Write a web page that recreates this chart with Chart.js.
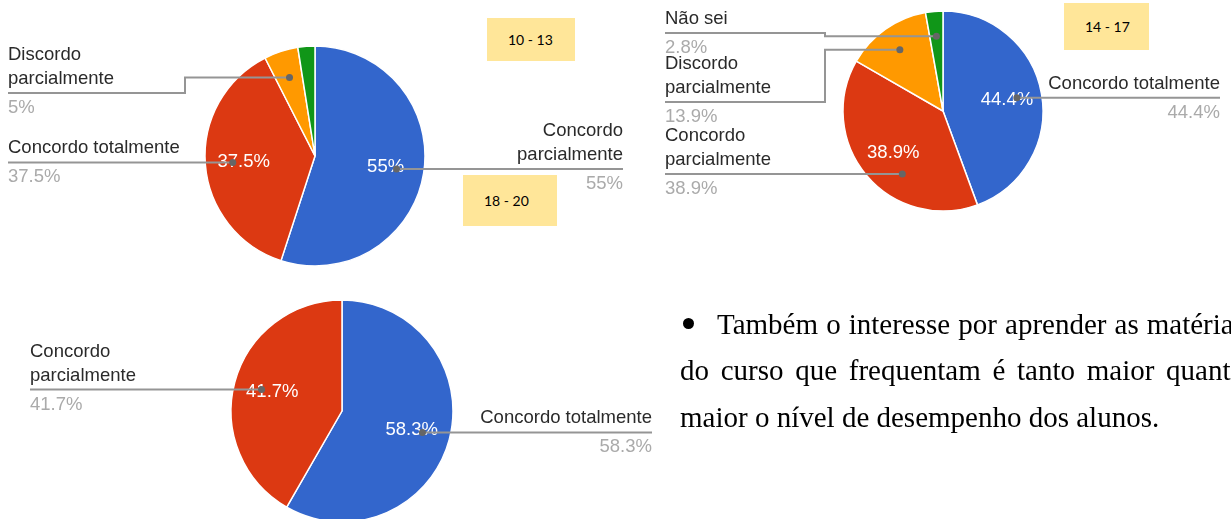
<!DOCTYPE html>
<html>
<head>
<meta charset="utf-8">
<script src="https://cdn.jsdelivr.net/npm/chart.js@4.4.1/dist/chart.umd.min.js"></script>
<style>
  html, body { margin: 0; padding: 0; background: #fff; width: 1231px; height: 519px; overflow: hidden; position: relative; }
  canvas { position: absolute; left: 0; top: 0; }
  .tag { position: absolute; background: #ffe699; font-family: Lato, "Open Sans", sans-serif; font-size: 14px; color: #000;
         display: flex; align-items: center; padding-left: 21px; box-sizing: border-box; }
  .txt { position: absolute; font-family: "Liberation Serif", "Times New Roman", serif; font-size: 29px; color: #000;
         white-space: nowrap; line-height: 34px; }
  .just { text-align: justify; text-align-last: justify; white-space: normal; }
  .bullet { position: absolute; left: 683px; top: 318px; width: 11px; height: 11px; border-radius: 50%; background: #000; }
</style>
</head>
<body>
<canvas id="pie1" width="1231" height="519"></canvas>
<canvas id="pie2" width="1231" height="519"></canvas>
<canvas id="pie3" width="1231" height="560"></canvas>

<div class="tag" style="left:487px;top:18px;width:88px;height:43px;">10 - 13</div>
<div class="tag" style="left:1064px;top:3px;width:85px;height:47px;">14 - 17</div>
<div class="tag" style="left:463px;top:175px;width:94px;height:51px;">18 - 20</div>

<div class="bullet"></div>
<div class="txt just" style="left:717px;top:307px;width:528px;">Também o interesse por aprender as matérias</div>
<div class="txt just" style="left:680px;top:353px;width:565px;">do curso que frequentam é tanto maior quanto</div>
<div class="txt" style="left:680px;top:400px;">maior o nível de desempenho dos alunos.</div>

<script>
// dados dos três gráficos
const cats1 = ['Concordo parcialmente', 'Concordo totalmente', 'Discordo parcialmente', 'Não sei'];
const vals1 = [55, 37.5, 5, 2.5];

const cats2 = ['Concordo totalmente', 'Concordo parcialmente', 'Discordo parcialmente', 'Não sei'];
const vals2 = [44.4, 38.9, 13.9, 2.8];

const cats3 = ['Concordo totalmente', 'Concordo parcialmente'];
const vals3 = [58.3, 41.7];

const colors4 = ['#3366cc', '#dc3912', '#ff9900', '#109618'];

const labelFont = '18.5px "Liberation Sans", Arial, sans-serif';

// quebra o texto da legenda em linhas
function wrap(ctx, text, maxW) {
    const words = text.split(' ');
    const lines = [];
    let cur = '';
    words.forEach(w => {
        const t = cur ? cur + ' ' + w : w;
        if (cur && ctx.measureText(t).width > maxW) {
            lines.push(cur);
            cur = w;
        } else {
            cur = t;
        }
    });
    if (cur) lines.push(cur);
    return lines;
}

// etiquetas dentro das fatias e linhas de chamada
const calloutPlugin = {
    id: 'callouts',
    afterDatasetsDraw(chart, args, opts) {
        const ctx = chart.ctx;
        const meta = chart.getDatasetMeta(0);
        const vals = chart.data.datasets[0].data;
        const cats = chart.data.labels;
        ctx.save();
        ctx.font = labelFont;

        meta.data.forEach((arc, i) => {
            if (vals[i] < 15) return;
            const p = arc.getProps(['x', 'y', 'startAngle', 'endAngle', 'outerRadius'], true);
            const mid = (p.startAngle + p.endAngle) / 2;
            ctx.fillStyle = '#fff';
            ctx.textAlign = 'center';
            ctx.textBaseline = 'middle';
            ctx.fillText(vals[i] + '%', p.x + Math.cos(mid) * p.outerRadius * 0.65, p.y + Math.sin(mid) * p.outerRadius * 0.65);
        });

        (opts.items || []).forEach(c => {
            const arc = meta.data[c.index];
            const p = arc.getProps(['x', 'y', 'startAngle', 'endAngle', 'outerRadius'], true);
            const mid = (p.startAngle + p.endAngle) / 2;
            const rr = p.outerRadius * 0.75;
            let dx = p.x + Math.cos(mid) * rr;
            let dy = p.y + Math.sin(mid) * rr;
            let ly = dy;
            if (c.slideY != null) {
                dy = ly = c.slideY;
                const h = Math.sqrt(Math.max(rr * rr - (dy - p.y) * (dy - p.y), 0));
                dx = c.side === 'left' ? p.x - h : p.x + h;
            } else if (c.lineY != null) {
                ly = c.lineY;
            }

            ctx.strokeStyle = '#959595';
            ctx.lineWidth = 2;
            ctx.beginPath();
            ctx.moveTo(dx, dy);
            if (c.elbowX != null) {
                ctx.lineTo(c.elbowX, dy);
                ctx.lineTo(c.elbowX, ly);
            }
            ctx.lineTo(c.x, ly);
            ctx.stroke();

            ctx.fillStyle = '#666';
            ctx.beginPath();
            ctx.arc(dx, dy, 3.5, 0, Math.PI * 2);
            ctx.fill();

            ctx.textAlign = c.side === 'left' ? 'left' : 'right';
            ctx.textBaseline = 'alphabetic';
            const lines = wrap(ctx, cats[c.index], 178);
            ctx.fillStyle = '#2a2a2a';
            lines.forEach((l, k) => {
                ctx.fillText(l, c.x, ly - 9 - (lines.length - 1 - k) * 24);
            });
            ctx.fillStyle = '#aaa';
            ctx.fillText(vals[c.index] + '%', c.x, ly + 20);
        });
        ctx.restore();
    }
};

function makePie(id, cats, vals, cx, cy, r, items) {
    const cv = document.getElementById(id);
    return new Chart(cv.getContext('2d'), {
        type: 'pie',
        data: {
            labels: cats,
            datasets: [{
                data: vals,
                backgroundColor: colors4.slice(0, vals.length),
                borderColor: '#fff',
                borderWidth: 1.5,
                radius: r
            }]
        },
        options: {
            responsive: false,
            animation: false,
            events: [],
            layout: {
                padding: { left: cx - r, top: cy - r, right: cv.width - cx - r, bottom: cv.height - cy - r }
            },
            plugins: {
                legend: { display: false },
                tooltip: { enabled: false },
                callouts: { items: items }
            }
        },
        plugins: [calloutPlugin]
    });
}

makePie('pie1', cats1, vals1, 315, 156, 110, [
    { index: 2, side: 'left', x: 8, lineY: 93, elbowX: 185 },
    { index: 1, side: 'left', x: 8 },
    { index: 0, side: 'right', x: 623 }
]);

makePie('pie2', cats2, vals2, 943, 111, 100, [
    { index: 3, side: 'left', x: 665, lineY: 33, elbowX: 825 },
    { index: 2, side: 'left', x: 665, lineY: 102, elbowX: 825 },
    { index: 1, side: 'left', x: 665, slideY: 174 },
    { index: 0, side: 'right', x: 1220 }
]);

makePie('pie3', cats3, vals3, 342, 411, 111, [
    { index: 1, side: 'left', x: 30 },
    { index: 0, side: 'right', x: 652 }
]);
</script>
</body>
</html>
